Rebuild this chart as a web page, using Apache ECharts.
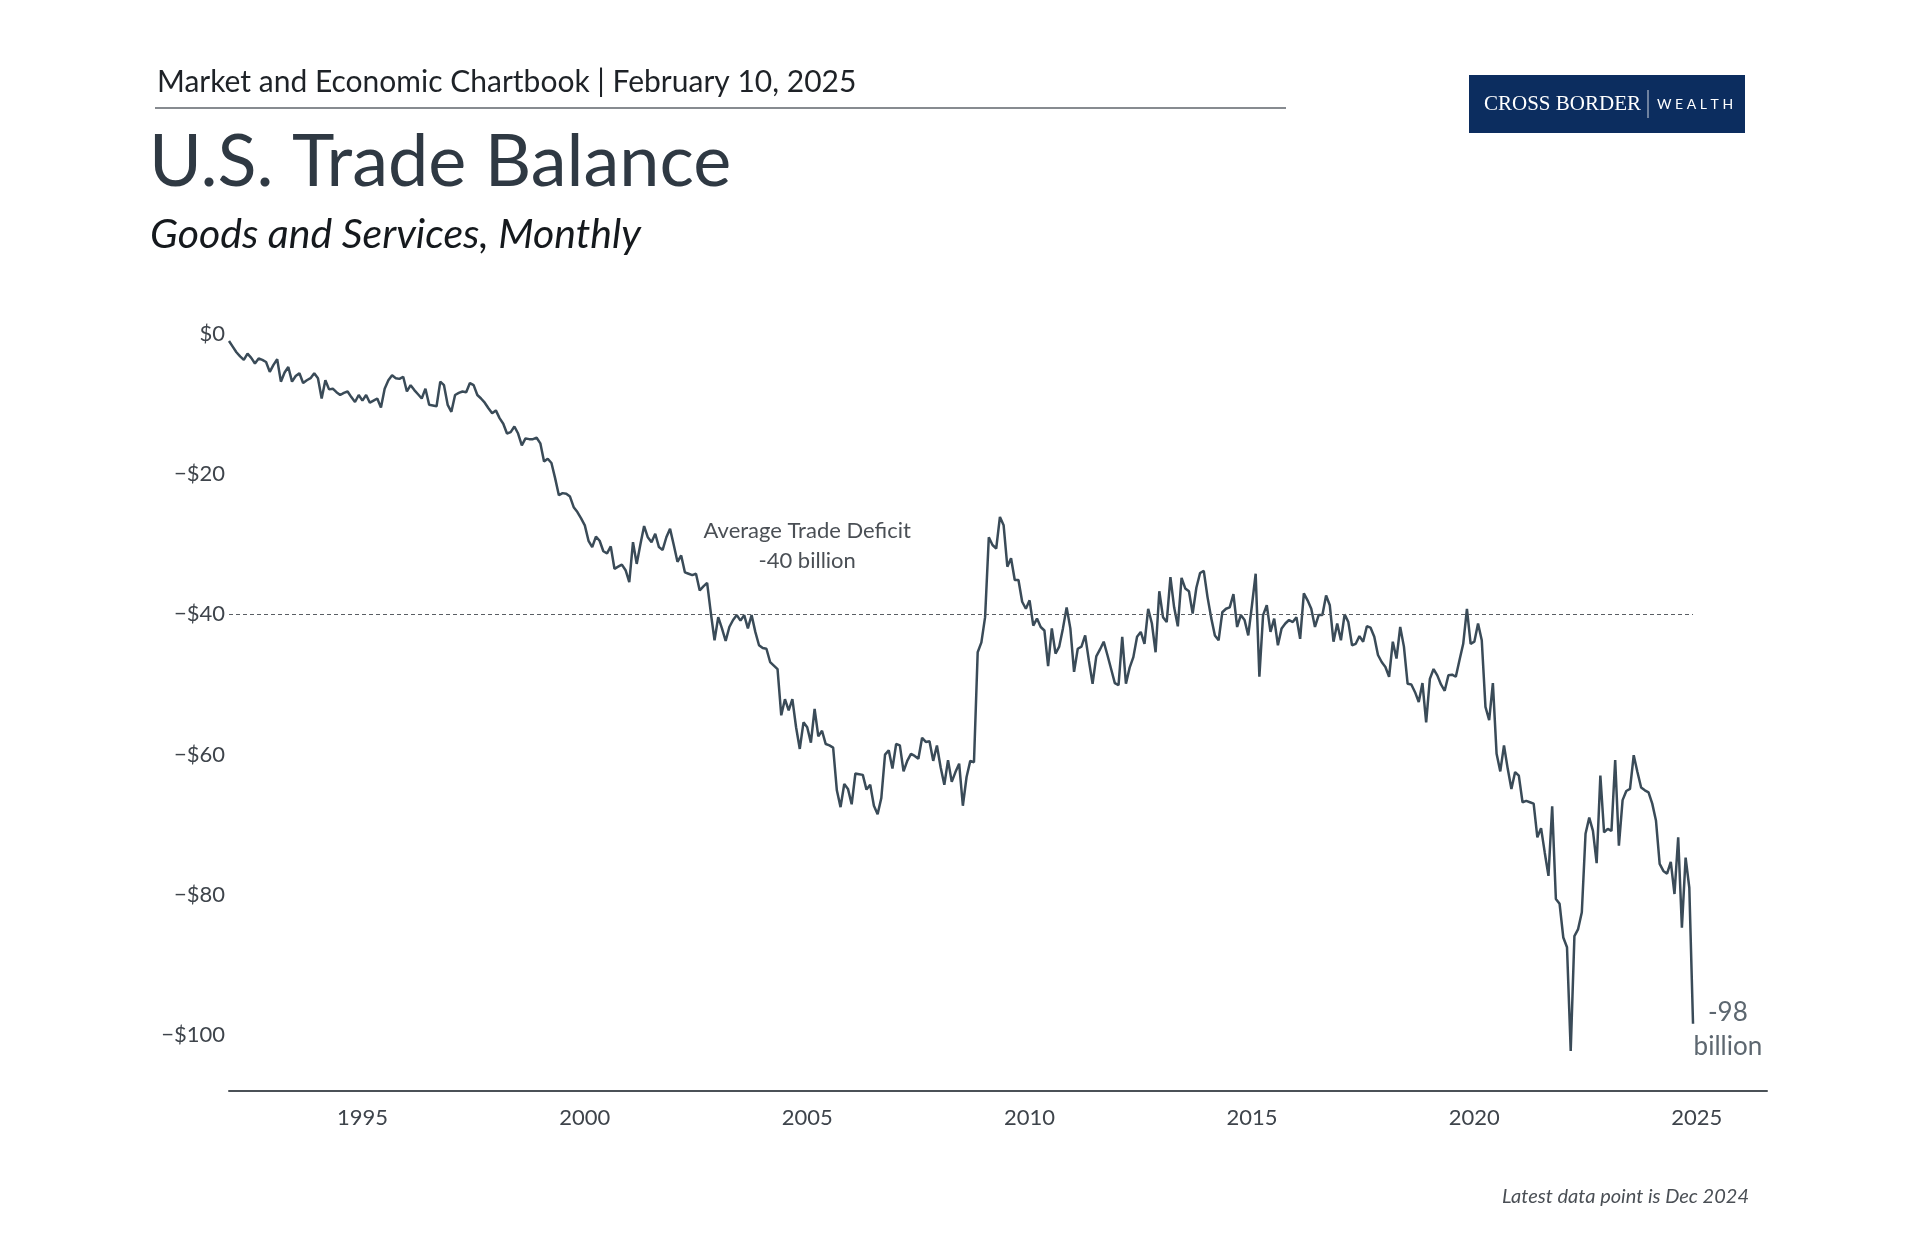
<!DOCTYPE html>
<html><head><meta charset="utf-8">
<script src="https://cdn.jsdelivr.net/npm/echarts@6/dist/echarts.min.js"></script>
<style>html,body{margin:0;padding:0;background:#fff}#chart{width:1920px;height:1240px}</style>
</head><body><div id="chart"></div>
<script>
// ---- Data (monthly, US trade balance in $ billions, Jan 1992 .. Dec 2024) ----
const startYear = 1992;
const tradeBalance = [
  -1.0, -1.8, -2.6, -3.2, -3.7, -2.8, -3.4, -4.2, -3.5, -3.7, -4.0, -5.4,       // 1992
  -4.4, -3.6, -6.8, -5.5, -4.7, -6.8, -6.0, -5.6, -7.0, -6.6, -6.3, -5.6,       // 1993
  -6.3, -9.2, -6.6, -7.9, -7.8, -8.3, -8.7, -8.4, -8.2, -9.0, -9.7, -8.7,       // 1994
  -9.5, -8.7, -9.8, -9.5, -9.2, -10.5, -7.8, -6.6, -5.9, -6.3, -6.4, -6.1,      // 1995
  -8.2, -7.3, -8.0, -8.6, -9.2, -7.8, -10.1, -10.2, -10.3, -6.8, -7.3, -10.1,   // 1996
  -11.1, -8.7, -8.4, -8.2, -8.3, -7.0, -7.3, -8.7, -9.2, -9.8, -10.6, -11.3,    // 1997
  -10.9, -12.0, -12.8, -14.2, -14.0, -13.2, -14.2, -15.9, -14.9, -15.0, -15.0, -14.8, // 1998
  -15.6, -18.2, -17.8, -18.4, -20.6, -23.0, -22.7, -22.8, -23.2, -24.7, -25.4, -26.3, // 1999
  -27.3, -29.5, -30.4, -28.9, -29.5, -31.0, -31.3, -30.3, -33.5, -33.2, -32.9, -33.7, // 2000
  -35.4, -29.7, -32.8, -30.0, -27.4, -29.0, -29.7, -28.5, -30.4, -30.8, -29.0, -27.8, // 2001
  -30.1, -32.5, -31.6, -34.0, -34.2, -34.4, -34.2, -36.6, -36.0, -35.5, -39.8, -43.7, // 2002
  -40.4, -42.0, -43.8, -41.8, -40.8, -40.1, -40.9, -40.1, -42.0, -40.1, -42.5, -44.4, // 2003
  -44.8, -44.9, -46.8, -47.3, -47.8, -54.4, -52.1, -53.7, -52.1, -56.1, -59.2, -55.4, // 2004
  -56.1, -58.3, -53.5, -57.4, -56.6, -58.5, -58.7, -59.0, -65.1, -67.5, -64.2, -64.9, // 2005
  -67.1, -62.7, -62.8, -62.9, -65.0, -64.3, -67.3, -68.5, -66.2, -60.0, -59.4, -62.0, // 2006
  -58.5, -58.7, -62.4, -60.9, -59.9, -60.2, -60.6, -57.6, -58.2, -58.1, -60.9, -58.7, // 2007
  -61.8, -64.3, -60.8, -63.9, -62.5, -61.3, -67.3, -63.2, -60.9, -61.1, -45.4, -44.0, // 2008
  -40.4, -29.0, -30.1, -30.6, -26.1, -27.3, -33.2, -32.0, -35.1, -35.1, -38.2, -39.2, // 2009
  -38.0, -41.6, -40.6, -41.8, -42.3, -47.4, -42.0, -45.6, -44.6, -42.0, -39.0, -42.0, // 2010
  -48.2, -44.9, -44.6, -43.0, -46.6, -49.9, -46.0, -45.0, -43.9, -45.8, -47.8, -49.8, // 2011
  -50.1, -43.2, -49.9, -47.6, -46.1, -43.2, -42.5, -44.2, -39.2, -41.3, -45.4, -36.7, // 2012
  -40.4, -41.1, -34.7, -39.0, -41.7, -34.8, -36.3, -36.7, -39.9, -36.2, -34.1, -33.8, // 2013
  -37.5, -40.5, -43.0, -43.7, -39.7, -39.2, -39.0, -37.1, -41.8, -40.1, -40.8, -43.0, // 2014
  -38.7, -34.2, -48.9, -40.1, -38.7, -42.5, -40.6, -44.4, -42.0, -41.3, -40.8, -41.1, // 2015
  -40.4, -43.5, -37.0, -38.0, -39.2, -41.8, -40.1, -40.1, -37.3, -38.7, -43.9, -41.3, // 2016
  -43.7, -40.0, -41.1, -44.4, -44.2, -43.1, -43.9, -41.7, -41.9, -43.2, -45.8, -46.8, // 2017
  -47.5, -48.9, -43.9, -46.3, -41.8, -44.6, -49.9, -50.0, -51.1, -52.5, -49.8, -55.4, // 2018
  -49.2, -47.8, -48.7, -50.0, -50.9, -48.7, -48.6, -48.9, -46.5, -44.2, -39.2, -44.2, // 2019
  -43.9, -41.3, -43.7, -53.2, -55.1, -49.8, -59.9, -62.4, -58.7, -62.0, -64.9, -62.5, // 2020
  -63.0, -66.8, -66.6, -66.8, -67.0, -71.8, -70.5, -74.0, -77.3, -67.4, -80.6, -81.3, // 2021
  -86.1, -87.5, -102.3, -85.9, -84.9, -82.5, -71.3, -69.0, -70.9, -75.5, -63.0, -71.1, // 2022
  -70.6, -70.9, -60.8, -73.0, -66.5, -65.2, -64.9, -60.1, -62.5, -64.7, -65.1, -65.4, // 2023
  -67.0, -69.4, -75.6, -76.6, -77.0, -75.3, -79.9, -71.8, -84.7, -74.7, -79.0, -98.4  // 2024
];
const yTickValues = [0, -20, -40, -60, -80, -100];
const xTickValues = [1995, 2000, 2005, 2010, 2015, 2020, 2025];
const averageDeficit = -40;
const averageLabel = 'Average Trade Deficit\n-40 billion';
const latestLabel = '-98\nbillion';

// ---- Build ----
const seriesData = tradeBalance.map((v, i) => [startYear + i / 12, v]);
const firstX = seriesData[0][0];
const lastX = seriesData[seriesData.length - 1][0];

const FONT = 'Lato, "Noto Sans", sans-serif';
const chart = echarts.init(document.getElementById('chart'), null, {renderer: 'canvas'});

chart.setOption({
  backgroundColor: '#ffffff',
  animation: false,
  grid: {left: 229, right: 153, top: 334, bottom: 149, containLabel: false},
  xAxis: {
    type: 'value', min: 1992, max: 2026.58,
    splitLine: {show: false},
    axisTick: {show: false},
    axisLine: {show: true, onZero: false, lineStyle: {color: '#4b5157', width: 2}},
    axisLabel: {
      customValues: xTickValues,
      formatter: v => String(v),
      color: '#3e444b', fontSize: 22, fontFamily: FONT, margin: 16
    }
  },
  yAxis: {
    type: 'value', min: -108, max: 0,
    splitLine: {show: false},
    axisTick: {show: false},
    axisLine: {show: false},
    axisLabel: {
      customValues: yTickValues,
      formatter: v => (v === 0 ? '$0' : '\u2212$' + Math.abs(v)),
      color: '#3e444b', fontSize: 22, fontFamily: FONT, margin: 4
    }
  },
  series: [{
    type: 'line',
    data: seriesData,
    showSymbol: false,
    lineStyle: {color: '#3a4b58', width: 2.5},
    z: 3,
    markLine: {
      silent: true,
      symbol: ['none', 'none'],
      label: {show: false},
      lineStyle: {color: '#5a5f64', width: 1, type: [4, 3]},
      data: [[{coord: [firstX, averageDeficit]}, {coord: [lastX, averageDeficit]}]]
    },
    markPoint: {
      silent: true,
      symbol: 'circle',
      symbolSize: 0,
      data: [
        {coord: [2005.0, -30.2], label: {show: true, position: 'inside', formatter: averageLabel,
          color: '#4a4f55', fontSize: 22, lineHeight: 30, fontFamily: FONT, align: 'center'}},
        {coord: [2025.7, -99.2], label: {show: true, position: 'inside', formatter: latestLabel,
          color: '#5d6770', fontSize: 26, lineHeight: 34, fontFamily: FONT, align: 'center'}}
      ]
    }
  }],
  graphic: [
    {type: 'text', left: 157, top: 67, style: {text: 'Market and Economic Chartbook | February 10, 2025',
      fill: '#1e2227', font: '30px ' + FONT}},
    {type: 'line', shape: {x1: 155, y1: 108, x2: 1286, y2: 108}, style: {stroke: '#5f656b', lineWidth: 1.5}},
    {type: 'text', left: 149, top: 127, style: {text: 'U.S. Trade Balance', fill: '#2f3943', font: '72px ' + FONT}},
    {type: 'text', left: 150, top: 214, style: {text: 'Goods and Services, Monthly', fill: '#15191d', font: 'italic 41px ' + FONT}},
    {type: 'rect', shape: {x: 1469, y: 75, width: 276, height: 58}, style: {fill: '#0c2d5f'}},
    {type: 'text', x: 1484, y: 104, style: {text: 'CROSS BORDER', fill: '#ffffff', font: '21px "Liberation Serif", "DejaVu Serif", serif', verticalAlign: 'middle'}},
    {type: 'line', shape: {x1: 1648, y1: 90, x2: 1648, y2: 118}, style: {stroke: '#d0d6e0', lineWidth: 1}},
    {type: 'text', x: 1657, y: 104, style: {text: 'W E A L T H', fill: '#ffffff', font: '14px ' + FONT, verticalAlign: 'middle'}},
    {type: 'text', right: 171, top: 1187, style: {text: 'Latest data point is Dec 2024', fill: '#4a4f55', font: 'italic 20px ' + FONT}}
  ]
});
</script></body></html>
